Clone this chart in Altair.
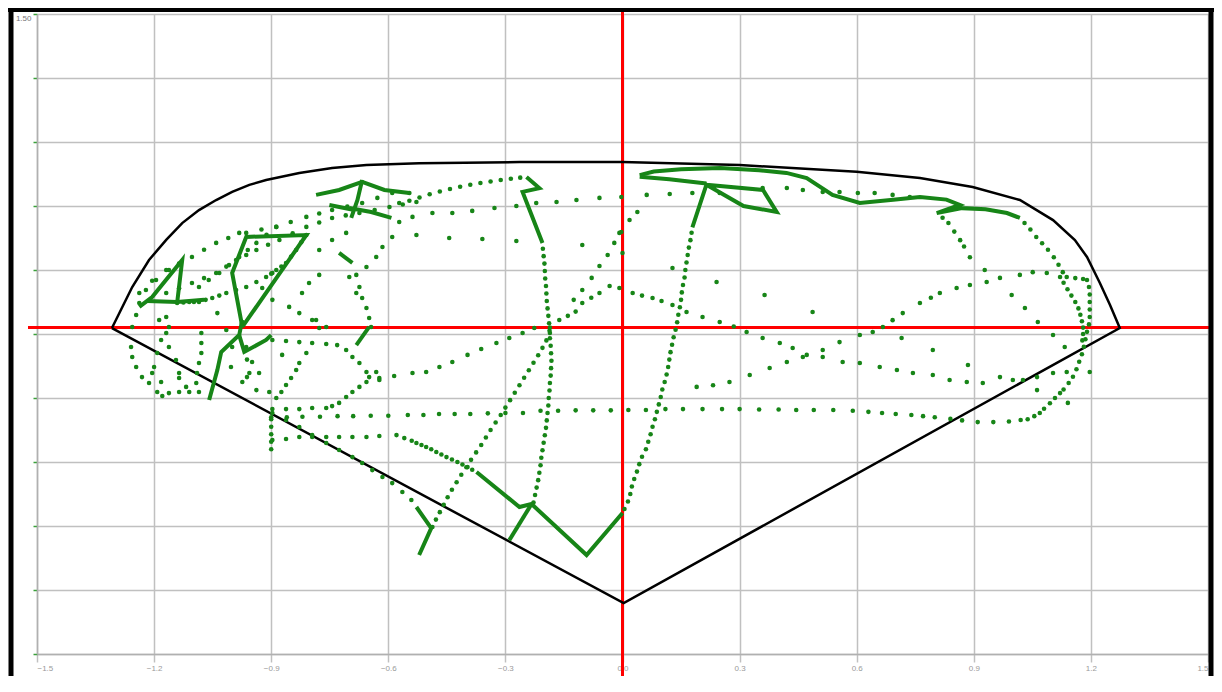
import altair as alt
import pandas as pd

# ---------------- data (x, y) in chart units ----------------
outline = [(-1.308, 0.028), (-1.256, 0.22), (-1.213, 0.347), (-1.169, 0.441), (-1.128, 0.52),
           (-1.085, 0.581), (-1.041, 0.628), (-1.0, 0.666), (-0.956, 0.699), (-0.913, 0.722),
           (-0.828, 0.755), (-0.744, 0.778), (-0.656, 0.792), (-0.521, 0.80), (-0.264, 0.806),
           (0.0, 0.806), (0.30, 0.792), (0.60, 0.76), (0.762, 0.731), (0.897, 0.689),
           (1.018, 0.628), (1.103, 0.534), (1.159, 0.44), (1.19, 0.361), (1.223, 0.239),
           (1.249, 0.136), (1.274, 0.028), (0.003, -1.261), (-1.308, 0.028)]

dots_right_loop = [(1.03, 0.52), (1.045, 0.49), (1.06, 0.455), (1.075, 0.425), (1.09, 0.395), (1.105, 0.36),
                   (1.117, 0.325), (1.128, 0.29), (1.138, 0.267), (1.16, 0.262), (1.18, 0.258), (1.19, 0.253),
                   (1.195, 0.22), (1.197, 0.185), (1.197, 0.15), (1.197, 0.115), (1.197, 0.08), (1.195, 0.045),
                   (1.19, 0.01), (1.186, -0.025), (1.182, -0.06), (1.177, -0.095), (1.17, -0.13), (1.163, -0.165),
                   (1.154, -0.2), (1.143, -0.23), (1.13, -0.26), (1.121, -0.277), (1.108, -0.3), (1.095, -0.325),
                   (1.08, -0.35), (1.069, -0.37), (1.055, -0.385), (1.038, -0.4),
                   (1.13, 0.24), (1.14, 0.21), (1.15, 0.18), (1.16, 0.15), (1.168, 0.12), (1.173, 0.09),
                   (1.177, 0.06), (1.18, 0.03), (1.18, 0.0), (1.178, -0.03)]

dots_bottom_row = [(1.02, -0.403), (0.99, -0.41), (0.95, -0.413), (0.91, -0.413), (0.87, -0.405), (0.84, -0.398),
                   (0.80, -0.39), (0.77, -0.385), (0.74, -0.38), (0.70, -0.375), (0.665, -0.37), (0.63, -0.365),
                   (0.59, -0.36), (0.54, -0.356), (0.49, -0.356), (0.445, -0.356), (0.40, -0.354), (0.35, -0.354),
                   (0.30, -0.352), (0.255, -0.352), (0.205, -0.352), (0.155, -0.352), (0.11, -0.352), (0.06, -0.356),
                   (0.015, -0.356), (-0.03, -0.358), (-0.075, -0.358), (-0.12, -0.358), (-0.165, -0.36), (-0.21, -0.36),
                   (-0.255, -0.37), (-0.30, -0.37), (-0.345, -0.372), (-0.39, -0.375), (-0.43, -0.375), (-0.47, -0.375),
                   (-0.51, -0.38), (-0.55, -0.38), (-0.60, -0.383), (-0.645, -0.383), (-0.69, -0.385), (-0.73, -0.385),
                   (-0.775, -0.388), (-0.82, -0.388), (-0.86, -0.39), (-0.90, -0.39)]

dots_right_vertical = [(0.005, -0.82), (0.014, -0.785), (0.02, -0.75), (0.024, -0.715), (0.03, -0.68), (0.037, -0.645),
                       (0.043, -0.61), (0.05, -0.575), (0.06, -0.54), (0.066, -0.505), (0.072, -0.47), (0.077, -0.435),
                       (0.083, -0.40), (0.088, -0.365), (0.093, -0.33), (0.098, -0.295), (0.102, -0.26), (0.108, -0.225),
                       (0.113, -0.19), (0.117, -0.155), (0.12, -0.12), (0.123, -0.085), (0.127, -0.05), (0.131, -0.015),
                       (0.136, 0.02), (0.14, 0.055), (0.143, 0.09), (0.147, 0.125), (0.15, 0.16), (0.152, 0.195),
                       (0.155, 0.23), (0.159, 0.265), (0.161, 0.30), (0.164, 0.335), (0.167, 0.37), (0.17, 0.405),
                       (0.174, 0.44), (0.177, 0.475)]

dots_center_vertical = [(-0.204, 0.40), (-0.202, 0.365), (-0.2, 0.33), (-0.199, 0.295), (-0.198, 0.26), (-0.196, 0.225),
                        (-0.195, 0.19), (-0.194, 0.155), (-0.192, 0.12), (-0.19, 0.085), (-0.188, 0.05), (-0.187, 0.015),
                        (-0.186, -0.02), (-0.184, -0.055), (-0.183, -0.09), (-0.182, -0.125), (-0.183, -0.16),
                        (-0.184, -0.195), (-0.186, -0.23), (-0.187, -0.265), (-0.189, -0.30), (-0.19, -0.335),
                        (-0.192, -0.37), (-0.194, -0.405), (-0.196, -0.44), (-0.199, -0.475), (-0.202, -0.51),
                        (-0.205, -0.545), (-0.208, -0.58), (-0.21, -0.615), (-0.213, -0.65), (-0.216, -0.685),
                        (-0.22, -0.72), (-0.224, -0.755), (-0.228, -0.79)]

dots_rise_left_center = [(-0.487, -0.905), (-0.478, -0.87), (-0.468, -0.835), (-0.458, -0.80), (-0.448, -0.765),
                         (-0.437, -0.73), (-0.425, -0.695), (-0.413, -0.66), (-0.40, -0.625), (-0.388, -0.59),
                         (-0.375, -0.555), (-0.362, -0.52), (-0.35, -0.485), (-0.338, -0.45), (-0.325, -0.415),
                         (-0.312, -0.38), (-0.3, -0.345), (-0.288, -0.31), (-0.276, -0.275), (-0.264, -0.24),
                         (-0.252, -0.205), (-0.24, -0.17), (-0.228, -0.135), (-0.216, -0.10), (-0.205, -0.065),
                         (-0.195, -0.03), (-0.186, 0.005)]

dots_center_desc = [(-0.186, 0.03), (-0.162, 0.066), (-0.14, 0.085), (-0.12, 0.105), (-0.103, 0.145), (-0.08, 0.17),
                    (-0.059, 0.192), (-0.033, 0.225), (-0.008, 0.216), (0.026, 0.192), (0.05, 0.18), (0.077, 0.169),
                    (0.1, 0.155), (0.128, 0.136), (0.164, 0.103), (0.205, 0.08), (0.249, 0.056), (0.285, 0.035),
                    (0.318, 0.009), (0.359, -0.019), (0.403, -0.042), (0.436, -0.066), (0.472, -0.098),
                    (0.513, -0.108), (0.564, -0.131), (0.608, -0.136), (0.659, -0.155), (0.703, -0.169),
                    (0.744, -0.183), (0.795, -0.192), (0.838, -0.216), (0.882, -0.225), (0.923, -0.23),
                    (0.967, -0.202), (1.0, -0.216), (1.026, -0.216), (1.062, -0.202), (1.103, -0.183), (1.138, -0.178)]

dots_ascending_right = [(0.19, -0.248), (0.232, -0.24), (0.274, -0.225), (0.326, -0.192), (0.377, -0.159),
                        (0.421, -0.131), (0.462, -0.108), (0.513, -0.075), (0.556, -0.038), (0.608, -0.005),
                        (0.641, 0.009), (0.667, 0.033), (0.692, 0.065), (0.718, 0.098), (0.762, 0.145), (0.79, 0.17),
                        (0.813, 0.192), (0.856, 0.216), (0.89, 0.23), (0.933, 0.244), (0.967, 0.263), (1.018, 0.277),
                        (1.051, 0.29), (1.087, 0.286), (1.121, 0.267)]

dots_center_diag_up = [(-0.125, 0.16), (-0.103, 0.206), (-0.079, 0.263), (-0.059, 0.319), (-0.038, 0.37),
                       (-0.021, 0.427), (-0.003, 0.478), (0.018, 0.534), (0.038, 0.572)]

dots_sparse_row_top = [(-0.572, 0.525), (-0.538, 0.549), (-0.487, 0.567), (-0.436, 0.567), (-0.385, 0.577),
                       (-0.328, 0.591), (-0.272, 0.60), (-0.221, 0.614), (-0.169, 0.619), (-0.118, 0.628),
                       (-0.059, 0.638), (-0.003, 0.642), (0.062, 0.652), (0.121, 0.656), (0.179, 0.661),
                       (0.249, 0.661), (0.359, 0.684), (0.421, 0.684), (0.462, 0.675), (0.513, 0.666),
                       (0.556, 0.666), (0.603, 0.661), (0.646, 0.661), (0.692, 0.652), (0.736, 0.642)]

dots_sparse_row_mid = [(-0.528, 0.464), (-0.444, 0.45), (-0.359, 0.445), (-0.272, 0.436), (-0.103, 0.417),
                       (-0.008, 0.474), (0.0, 0.38)]

dots_left_rise = [(-0.623, -0.206), (-0.585, -0.197), (-0.538, -0.183), (-0.503, -0.178), (-0.469, -0.155),
                  (-0.436, -0.131), (-0.397, -0.098), (-0.362, -0.07), (-0.323, -0.042), (-0.29, -0.019),
                  (-0.256, 0.005), (-0.226, 0.028)]

dots_row_low = [(-0.897, -0.497), (-0.862, -0.492), (-0.828, -0.483), (-0.795, -0.483), (-0.759, -0.483),
                (-0.726, -0.483), (-0.692, -0.483), (-0.656, -0.483), (-0.623, -0.478), (-0.579, -0.474),
                (-0.559, -0.488), (-0.54, -0.50), (-0.528, -0.511), (-0.515, -0.52), (-0.503, -0.53),
                (-0.49, -0.54), (-0.477, -0.553), (-0.464, -0.565), (-0.451, -0.577), (-0.437, -0.588),
                (-0.423, -0.60), (-0.41, -0.612), (-0.397, -0.624), (-0.385, -0.636)]

dots_edge_diag = [(-0.897, -0.37), (-0.862, -0.403), (-0.828, -0.436), (-0.795, -0.474), (-0.759, -0.511),
                  (-0.726, -0.544), (-0.692, -0.577), (-0.667, -0.605), (-0.641, -0.638), (-0.615, -0.67),
                  (-0.59, -0.699), (-0.564, -0.741), (-0.541, -0.778),
                  (-0.9, -0.40), (-0.9, -0.435), (-0.9, -0.47), (-0.9, -0.505), (-0.9, -0.54)]

dots_hexagon = [(-0.897, -0.028), (-0.862, -0.033), (-0.828, -0.038), (-0.795, -0.042), (-0.759, -0.047),
                (-0.731, -0.052), (-0.708, -0.075), (-0.692, -0.108), (-0.674, -0.136), (-0.656, -0.178),
                (-0.649, -0.202), (-0.656, -0.225), (-0.674, -0.248), (-0.692, -0.272), (-0.708, -0.295),
                (-0.726, -0.323), (-0.744, -0.338), (-0.759, -0.347), (-0.795, -0.347), (-0.828, -0.352),
                (-0.862, -0.352), (-0.897, -0.352),
                (-0.828, -0.136), (-0.836, -0.169), (-0.849, -0.206), (-0.862, -0.239), (-0.874, -0.272),
                (-0.887, -0.30), (-0.631, -0.178), (-0.623, -0.216)]

dots_left_low = [(-1.079, 0.005), (-1.079, -0.042), (-1.079, -0.089), (-1.085, -0.136), (-1.09, -0.183),
                 (-1.092, -0.23), (-1.182, -0.028), (-1.192, -0.089), (-1.2, -0.155), (-1.205, -0.183),
                 (-1.259, -0.061), (-1.256, -0.108), (-1.246, -0.155), (-1.231, -0.202), (-1.213, -0.23),
                 (-1.192, -0.272), (-1.179, -0.291), (-1.162, -0.277), (-1.136, -0.272), (-1.11, -0.272),
                 (-1.085, -0.272), (-1.136, -0.206), (-1.182, -0.225), (-1.003, -0.155), (-0.974, -0.225),
                 (-0.962, -0.202), (-0.949, -0.131), (-0.931, -0.183), (-0.938, -0.263), (-0.905, -0.272),
                 (-0.872, -0.098), (-0.81, -0.089), (-0.785, 0.066), (-0.777, 0.028),
                 (-1.187, 0.066), (-1.169, 0.005), (-1.162, -0.061), (-1.144, -0.122), (-1.136, -0.183),
                 (-1.118, -0.248), (-1.038, 0.098), (-1.015, 0.019), (-1.0, -0.061), (-0.964, -0.061),
                 (-0.962, -0.12), (-0.956, -0.183)]

dots_left_arc = [(-1.256, 0.033), (-1.246, 0.089), (-1.238, 0.145), (-1.221, 0.206), (-1.195, 0.253),
                 (-1.162, 0.30), (-1.169, 0.08), (-1.162, 0.033)]

dots_left_rise_kite = [(-1.141, 0.145), (-1.125, 0.148), (-1.11, 0.15), (-1.098, 0.15), (-1.085, 0.15),
                       (-1.068, 0.16), (-1.051, 0.169), (-1.033, 0.18), (-1.015, 0.192), (-0.99, 0.206),
                       (-0.964, 0.22), (-0.938, 0.244), (-0.913, 0.267), (-0.9, 0.283), (-0.887, 0.30),
                       (-0.874, 0.316), (-0.862, 0.333), (-0.849, 0.363), (-0.836, 0.394), (-0.823, 0.43),
                       (-0.81, 0.464)]

dots_kite_to_star = [(-0.964, 0.474), (-0.925, 0.49), (-0.887, 0.502), (-0.85, 0.525), (-0.81, 0.549),
                     (-0.777, 0.565), (-0.744, 0.581), (-0.705, 0.598), (-0.667, 0.614), (-0.628, 0.638),
                     (-0.59, 0.661), (-0.546, 0.661)]

dots_rows_left_up = [(-1.169, 0.192), (-1.136, 0.215), (-1.103, 0.239), (-1.072, 0.262), (-1.041, 0.286),
                     (-1.015, 0.316), (-0.99, 0.347), (-0.964, 0.37), (-0.938, 0.394), (-0.908, 0.418),
                     (-0.879, 0.441), (-0.845, 0.472), (-0.81, 0.502), (-0.777, 0.523), (-0.744, 0.544),
                     (-0.709, 0.556), (-0.674, 0.567), (-0.635, 0.581), (-0.597, 0.595), (-0.563, 0.607),
                     (-0.528, 0.619),
                     (-1.238, 0.192), (-1.205, 0.25), (-1.169, 0.30), (-1.136, 0.33), (-1.103, 0.361),
                     (-1.072, 0.395), (-1.041, 0.427), (-1.01, 0.45), (-0.982, 0.474),
                     (-1.085, 0.22), (-1.06, 0.253), (-1.033, 0.286), (-1.008, 0.323), (-0.982, 0.361),
                     (-0.96, 0.394), (-0.938, 0.427), (-0.912, 0.465), (-0.887, 0.502)]

dots_to_center_top = [(-0.572, 0.614), (-0.546, 0.625), (-0.52, 0.64), (-0.494, 0.655), (-0.468, 0.668),
                      (-0.442, 0.68), (-0.416, 0.69), (-0.39, 0.70), (-0.364, 0.708), (-0.338, 0.715),
                      (-0.312, 0.722), (-0.286, 0.728), (-0.262, 0.733)]

dots_left_mid = [(-0.682, 0.277), (-0.674, 0.22), (-0.667, 0.169), (-0.656, 0.122), (-0.649, 0.075),
                 (-0.644, 0.033), (-0.777, 0.394), (-0.777, 0.277), (-0.803, 0.239), (-0.821, 0.192),
                 (-0.897, 0.286), (-0.923, 0.216), (-0.897, 0.16), (-0.854, 0.127), (-0.828, 0.098),
                 (-0.795, 0.066), (-0.759, 0.033), (-0.744, 0.441), (-0.708, 0.474), (-0.615, 0.408),
                 (-0.631, 0.361), (-0.656, 0.314), (-0.59, 0.455), (-0.70, 0.267), (-0.682, 0.192)]

dots_right_scatter = [(0.128, 0.309), (0.241, 0.244), (0.364, 0.183), (0.487, 0.103), (0.928, 0.30),
                      (0.997, 0.183), (1.031, 0.122), (1.064, 0.056), (1.103, -0.005), (1.133, -0.061),
                      (0.795, -0.075), (0.715, -0.019), (0.885, -0.145), (1.197, -0.178), (1.141, -0.323),
                      (1.062, -0.263), (0.82, 0.545), (0.835, 0.52), (0.85, 0.48), (0.865, 0.44),
                      (0.875, 0.41), (0.89, 0.36)]

# continuous (densely sampled) stretches of the tracks
seg_top_right = [(0.044, 0.745), (0.08, 0.762), (0.15, 0.772), (0.25, 0.778), (0.35, 0.768), (0.42, 0.755),
                 (0.472, 0.731), (0.538, 0.652), (0.608, 0.614), (0.70, 0.63), (0.762, 0.642), (0.83, 0.63),
                 (0.864, 0.605), (0.805, 0.567), (0.87, 0.59), (0.93, 0.585), (0.985, 0.567), (1.018, 0.544)]
seg_top_right_low = [(0.044, 0.737), (0.12, 0.725), (0.215, 0.705)]
seg_triangle = [(0.179, 0.50), (0.215, 0.70), (0.31, 0.60), (0.395, 0.572), (0.36, 0.675), (0.215, 0.70)]
seg_center_zig = [(-0.246, 0.736), (-0.213, 0.684), (-0.256, 0.666), (-0.205, 0.427)]
seg_bottom = [(-0.374, -0.647), (-0.264, -0.811), (-0.233, -0.797), (-0.092, -1.036), (0.0, -0.839)]
seg_branch = [(-0.233, -0.797), (-0.29, -0.966)]
seg_low_left = [(-0.528, -0.811), (-0.49, -0.91), (-0.521, -1.036)]
seg_lambda = [(-1.238, 0.127), (-1.205, 0.173), (-1.128, 0.347), (-1.141, 0.145)]
seg_lambda_h = [(-1.218, 0.155), (-1.141, 0.15), (-1.072, 0.16)]
seg_kite = [(-0.974, 0.033), (-1.0, 0.286), (-0.964, 0.455), (-0.81, 0.464), (-0.974, 0.033)]
seg_left_thick = [(-1.059, -0.309), (-1.038, -0.169), (-1.028, -0.084), (-0.982, -0.005), (-0.974, 0.066)]
seg_left_zig = [(-0.982, -0.005), (-0.969, -0.084), (-0.913, -0.028), (-0.90, -0.005)]
seg_star_a = [(-0.785, 0.652), (-0.726, 0.675), (-0.667, 0.713), (-0.61, 0.675), (-0.546, 0.661)]
seg_star_b = [(-0.667, 0.722), (-0.679, 0.628), (-0.695, 0.544)]
seg_star_c = [(-0.70, 0.591), (-0.644, 0.572), (-0.592, 0.544)]
seg_star_d = [(-0.751, 0.605), (-0.687, 0.581)]
seg_dash = [(-0.726, 0.38), (-0.692, 0.333)]
seg_short = [(-0.649, 0.033), (-0.682, -0.052)]

x_ticks = [-1.5, -1.2, -0.9, -0.6, -0.3, 0.0, 0.3, 0.6, 0.9, 1.2, 1.5]
y_ticks = [-1.5, -1.2, -0.9, -0.6, -0.3, 0.0, 0.3, 0.6, 0.9, 1.2, 1.5]
zero_line_y = 0.03

# ---------------- tables ----------------
dot_tracks = [dots_right_loop, dots_bottom_row, dots_right_vertical, dots_center_vertical,
              dots_rise_left_center, dots_center_desc, dots_ascending_right, dots_center_diag_up,
              dots_sparse_row_top, dots_sparse_row_mid, dots_left_rise, dots_row_low, dots_edge_diag,
              dots_hexagon, dots_left_low, dots_left_arc, dots_left_rise_kite, dots_kite_to_star,
              dots_rows_left_up, dots_to_center_top, dots_left_mid, dots_right_scatter]
dots_df = pd.DataFrame([{"x": p[0], "y": p[1]} for t in dot_tracks for p in t])

segments = [seg_top_right, seg_top_right_low, seg_triangle, seg_center_zig, seg_bottom, seg_branch,
            seg_low_left, seg_lambda, seg_lambda_h, seg_kite, seg_left_thick, seg_left_zig,
            seg_star_a, seg_star_b, seg_star_c, seg_star_d, seg_dash, seg_short]
seg_df = pd.DataFrame([{"seg": k, "i": i, "x": p[0], "y": p[1]}
                       for k, s in enumerate(segments) for i, p in enumerate(s)])
outline_df = pd.DataFrame([{"i": i, "x": p[0], "y": p[1]} for i, p in enumerate(outline)])
one = pd.DataFrame({"k": [0]})

GREEN = "#178517"
GRID = "#c0c0c0"
FONT = "Liberation Sans"

xscale = alt.Scale(domain=[-1.5, 1.5], nice=False, zero=False)
yscale = alt.Scale(domain=[-1.5, 1.5], nice=False, zero=False)
xaxis = alt.Axis(values=x_ticks, format=".1f", grid=True, gridColor=GRID, gridWidth=1.5,
                 domainColor="#b0b0b0", domainWidth=1.5, tickColor=GRID, tickWidth=1.5, tickSize=8,
                 labelFontSize=8, labelColor="#9a9a9a", labelFont=FONT, labelPadding=2, title=None)
yaxis = alt.Axis(values=y_ticks, grid=True, gridColor=GRID, gridWidth=1.5,
                 domainColor="#b0b0b0", domainWidth=1.5, tickColor="#3aa03a", tickWidth=1.5, tickSize=4,
                 labelExpr="datum.value >= 1.49 ? '1.50' : ''", labelFontSize=8, labelColor="#777777",
                 labelFont=FONT, labelBaseline="top", labelPadding=2, title=None)

X = alt.X("x:Q", scale=xscale, axis=xaxis)
Y = alt.Y("y:Q", scale=yscale, axis=yaxis)

red_v = alt.Chart(one).mark_rule(color="#ff0000", strokeWidth=3).encode(
    x=alt.XDatum(0, scale=xscale, axis=xaxis), y=alt.value(-6), y2=alt.value(662))
red_h = alt.Chart(one).mark_rule(color="#ff0000", strokeWidth=3).encode(
    y=alt.YDatum(zero_line_y, scale=yscale, axis=yaxis), x=alt.value(-9), x2=alt.value(1173))

shape = alt.Chart(outline_df).mark_line(color="black", strokeWidth=2.5).encode(x=X, y=Y, order="i:Q")
dots = alt.Chart(dots_df).mark_circle(color=GREEN, size=21, opacity=1).encode(x=X, y=Y)
lines = alt.Chart(seg_df).mark_line(color=GREEN, strokeWidth=4).encode(
    x=X, y=Y, detail="seg:N", order="i:Q")

frame_l = alt.Chart(one).mark_rule(color="black", strokeWidth=5).encode(
    x=alt.value(-26), y=alt.value(-6), y2=alt.value(662))
frame_t = alt.Chart(one).mark_rule(color="black", strokeWidth=4).encode(
    y=alt.value(-4), x=alt.value(-29), x2=alt.value(1177))
frame_r = alt.Chart(one).mark_rule(color="black", strokeWidth=5).encode(
    x=alt.value(1174), y=alt.value(-6), y2=alt.value(662))

chart = alt.layer(red_v, red_h, shape, dots, lines, frame_l, frame_t, frame_r).properties(
    width=1171, height=640,
    autosize=alt.AutoSizeParams(type="none"),
    padding={"left": 29, "top": 6, "right": 6, "bottom": 22},
).configure_view(stroke=None).configure(background="white")

chart.save("out.html", embed_options={"renderer": "svg", "actions": False})
